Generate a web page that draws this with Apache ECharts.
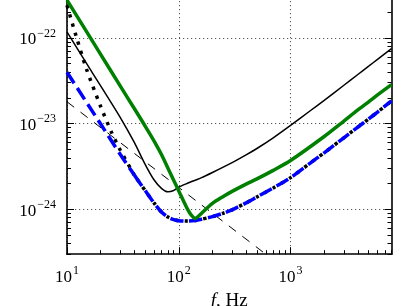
<!DOCTYPE html>
<html><head><meta charset="utf-8">
<script src="https://cdn.jsdelivr.net/npm/echarts@6/dist/echarts.min.js"></script>
<style>html,body{margin:0;padding:0;background:#fff}#c{width:408px;height:306px}</style>
</head><body><div id="c"></div>
<script>
// thin black solid curve
const blackFreq = [10,15,20,30,40,50,60,70,80,90,100,120,140,160,200,300,400,500,700,1000,1500,2000,3000,4000,5000,6000,8000];
const blackSolid = [1.175e-22,5.01e-23,2.754e-23,1.175e-23,6.03e-24,3.35e-24,2.213e-24,1.758e-24,1.603e-24,1.660e-24,1.820e-24,2.018e-24,2.188e-24,2.344e-24,2.692e-24,3.508e-24,4.315e-24,5.129e-24,6.839e-24,9.55e-24,1.413e-23,1.871e-23,2.805e-23,3.741e-23,4.677e-23,5.623e-23,7.499e-23];
// thick green curve
const greenFreq = [10,20,30,40,50,60,70,80,90,100,120,130,140,150,160,200,250,300,400,500,700,1000,2000,3000,4000,5000,6000,8000];
const greenThick = [2.754e-22,6.427e-23,2.742e-23,1.500e-23,9.376e-24,6.310e-24,4.365e-24,3.020e-24,2.188e-24,1.641e-24,1.0e-24,8.511e-25,7.852e-25,8.318e-25,9.016e-25,1.175e-24,1.413e-24,1.622e-24,1.972e-24,2.265e-24,2.851e-24,3.715e-24,7.079e-24,1.072e-23,1.445e-23,1.799e-23,2.163e-23,2.851e-23];
// thick blue dashed curve
const blueFreq = [10,20,30,40,50,60,70,80,90,100,120,140,160,200,250,300,400,500,700,1000,1500,2000,3000,4000,5000,6000,8000];
const blueDashed = [3.981e-23,9.886e-24,4.365e-24,2.512e-24,1.660e-24,1.189e-24,9.333e-25,8.128e-25,7.586e-25,7.379e-25,7.295e-25,7.413e-25,7.674e-25,8.222e-25,9.016e-25,9.886e-25,1.189e-24,1.396e-24,1.778e-24,2.344e-24,3.467e-24,4.571e-24,6.839e-24,9.120e-24,1.135e-23,1.365e-23,1.841e-23];
// black dotted curve: low-frequency part; above 40 Hz it runs on top of the blue curve
const dottedFreq = [10,12,15,20,25,30,40];
const dottedLow = [2.399e-22,1.072e-22,4.266e-23,1.585e-23,7.943e-24,4.898e-24,2.512e-24];
const JOIN = 3; // index of 40 Hz in blueFreq
// thin dashed straight reference line
const dashedFreq = [10,600];
const dashedRef = [1.8e-23,3.0e-25];
// tick labels (exponents of ten)
const xTickExp = [1,2,3];
const yTickExp = [-24,-23,-22];
const minorMant = [2,3,4,5,6,7,8,9];
const X_MIN = 10, X_MAX = 8000, Y_MIN = 3e-25, Y_MAX = 3e-22;

const L10 = Math.log10;
const pairs = (fs, vs) => fs.map((f, i) => [f, vs[i]]);
const xMinor = [];
[1,2,3].forEach(e => minorMant.forEach(m => { const v = e + L10(m); if (v <= L10(X_MAX)) xMinor.push(v); }));
const yMinor = [];
[-25,-24,-23,-22].forEach(e => minorMant.forEach(m => { const v = e + L10(m); if (v >= L10(Y_MIN) - 1e-9 && v <= L10(Y_MAX) + 1e-9) yMinor.push(v); }));

const FONT = 'Liberation Serif';
const rich = {
  b: {fontFamily: FONT, fontSize: 17, color: '#000', lineHeight: 21, verticalAlign: 'bottom'},
  s: {fontFamily: FONT, fontSize: 12, color: '#000', lineHeight: 13, verticalAlign: 'top', padding: [0,0,0,1]}
};
const gridRect = {left: 67, right: 16.5, top: -3, bottom: 51.8, containLabel: false, outerBoundsMode: 'none'};
const axisLine = {show: true, lineStyle: {color: '#000', width: 1.6}};
const noLine = {show: false};
const majorTick = vals => ({show: true, inside: true, length: 7, customValues: vals, lineStyle: {color: '#000', width: 1}});
const minorTick = vals => ({show: true, inside: true, length: 4, customValues: vals, lineStyle: {color: '#000', width: 1}});
const gridLine = {show: true, lineStyle: {color: '#555', width: 1, type: [1.2, 2.8]}};

const chart = echarts.init(document.getElementById('c'), null, {renderer: 'canvas'});
const BW = 3.5;
const SM = 0.25;
chart.setOption({
  animation: false,
  backgroundColor: '#fff',
  grid: [Object.assign({}, gridRect), Object.assign({}, gridRect), Object.assign({}, gridRect)],
  xAxis: [
    {gridIndex: 0, type: 'log', logBase: 10, min: X_MIN, max: X_MAX, show: false},
    {gridIndex: 1, type: 'value', min: L10(X_MIN), max: L10(X_MAX), position: 'bottom',
      axisLine: axisLine, axisTick: majorTick(xTickExp), splitLine: gridLine,
      axisLabel: {customValues: xTickExp, margin: 11, formatter: v => '{b|10}{s|' + Math.round(v) + '}', rich: rich},
      name: '{i|f}{n|, Hz}', nameLocation: 'middle', nameGap: 34,
      nameTextStyle: {rich: {i: {fontFamily: FONT, fontSize: 19, fontStyle: 'italic', color: '#000'}, n: {fontFamily: FONT, fontSize: 19, color: '#000'}}}},
    {gridIndex: 2, type: 'value', min: L10(X_MIN), max: L10(X_MAX), position: 'bottom',
      axisLine: noLine, axisTick: minorTick(xMinor), axisLabel: {show: false}, splitLine: {show: false}}
  ],
  yAxis: [
    {gridIndex: 0, type: 'log', logBase: 10, min: Y_MIN, max: Y_MAX, show: false},
    {gridIndex: 1, type: 'value', min: L10(Y_MIN), max: L10(Y_MAX), position: 'left',
      axisLine: axisLine, axisTick: majorTick(yTickExp), splitLine: gridLine,
      axisLabel: {customValues: yTickExp, margin: 11, formatter: v => '{b|10}{s|\u2212' + Math.abs(Math.round(v)) + '}', rich: rich}},
    {gridIndex: 1, type: 'value', min: L10(Y_MIN), max: L10(Y_MAX), position: 'right',
      axisLine: axisLine, axisTick: majorTick(yTickExp), splitLine: {show: false}, axisLabel: {show: false}},
    {gridIndex: 2, type: 'value', min: L10(Y_MIN), max: L10(Y_MAX), position: 'left',
      axisLine: noLine, axisTick: minorTick(yMinor), splitLine: {show: false}, axisLabel: {show: false}},
    {gridIndex: 2, type: 'value', min: L10(Y_MIN), max: L10(Y_MAX), position: 'right',
      axisLine: noLine, axisTick: minorTick(yMinor), splitLine: {show: false}, axisLabel: {show: false}}
  ],
  series: [
    {type: 'line', xAxisIndex: 0, yAxisIndex: 0, data: pairs(dashedFreq, dashedRef), showSymbol: false, symbol: 'none',
      lineStyle: {color: '#000', width: 1, type: [9, 8]}},
    {type: 'line', xAxisIndex: 0, yAxisIndex: 0, data: pairs(blackFreq, blackSolid), showSymbol: false, symbol: 'none', smooth: SM,
      lineStyle: {color: '#000', width: 1.5}},
    {type: 'line', xAxisIndex: 0, yAxisIndex: 0, data: pairs(dottedFreq, dottedLow), showSymbol: false, symbol: 'none', smooth: SM,
      lineStyle: {color: '#000', width: BW, type: [3.3, 6.2], cap: 'butt'}},
    {type: 'line', xAxisIndex: 0, yAxisIndex: 0, data: pairs(blueFreq.slice(JOIN), blueDashed.slice(JOIN)), showSymbol: false, symbol: 'none', smooth: SM,
      lineStyle: {color: '#000', width: BW, type: [3.3, 6.2], dashOffset: 4.6, cap: 'butt'}},
    {type: 'line', xAxisIndex: 0, yAxisIndex: 0, data: pairs(blueFreq.slice(0, JOIN + 1), blueDashed.slice(0, JOIN + 1)), showSymbol: false, symbol: 'none', smooth: SM,
      lineStyle: {color: '#0000ff', width: BW, type: [13.3, 5.7], cap: 'butt'}},
    {type: 'line', xAxisIndex: 0, yAxisIndex: 0, data: pairs(blueFreq.slice(JOIN), blueDashed.slice(JOIN)), showSymbol: false, symbol: 'none', smooth: SM,
      lineStyle: {color: '#0000ff', width: BW, type: [13.3, 5.7], cap: 'butt'}},
    {type: 'line', xAxisIndex: 0, yAxisIndex: 0, data: pairs(greenFreq, greenThick), showSymbol: false, symbol: 'none', smooth: SM,
      lineStyle: {color: '#008000', width: BW}}
  ]
});
</script></body></html>
